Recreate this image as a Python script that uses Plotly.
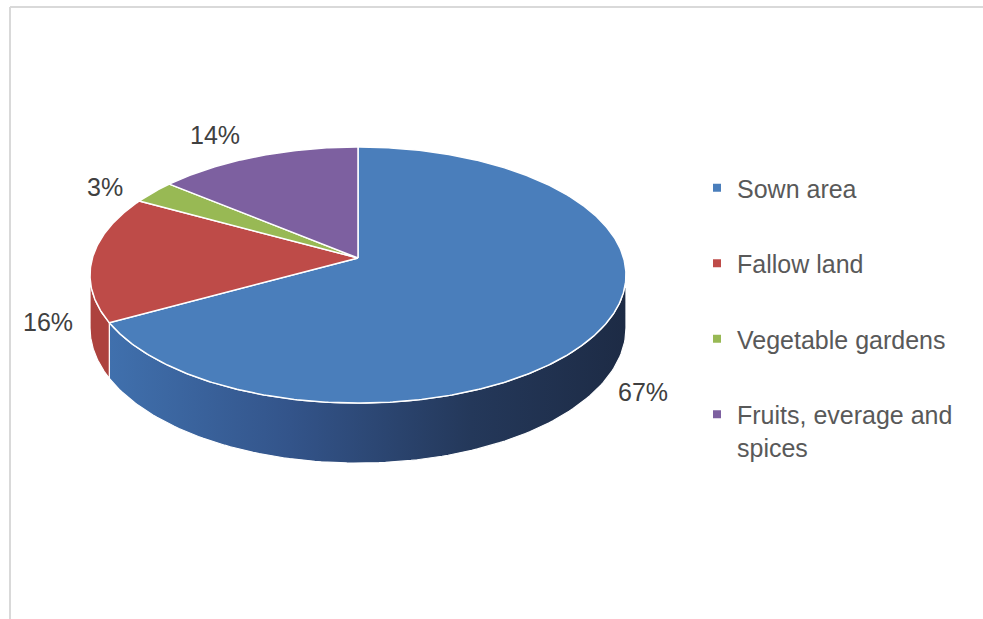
import numpy as np
import plotly.graph_objects as go

# Land use shares (%)
categories = ["Sown area", "Fallow land", "Vegetable gardens", "Fruits, everage and spices"]
legend_names = ["Sown area", "Fallow land", "Vegetable gardens", "Fruits, everage and<br>spices"]
values = [67, 16, 3, 14]

top_colors = ["#4a7ebb", "#be4b48", "#98b954", "#7d60a0"]
side_colors = ["#2e4a72", "#ad423e", "#7d9745", "#634a82"]
blue_side_scale = [[0.0, "#4070ad"], [0.35, "#33548a"], [0.7, "#24385a"], [1.0, "#1d2b45"]]

# Canvas and 3-D pie geometry (pixel space)
W, H = 983, 619
CX, CY = 358, 258          # projected pie centre
RX, RY = 265.6, 125.8      # radii of the top face
K = 0.133                  # perspective strength
DEPTH = 52                 # thickness of the disc
LABEL_FONT = "Liberation Sans, Arial, sans-serif"


def proj(theta_deg, drop=0.0):
    t = np.radians(theta_deg)
    u, v = np.sin(t), np.cos(t)
    d = 1 + K * v
    return CX + RX * u / d, CY - RY * v / d + drop / d


fig = go.Figure()

total = float(sum(values))
ends = np.cumsum(values) / total * 360.0
starts = np.concatenate([[0.0], ends[:-1]])

# visible part of the rim lies between the two silhouette angles
s_lo = np.degrees(np.arccos(-K))
s_hi = 360.0 - s_lo

# rim (side walls) first
for i, (a0, a1) in enumerate(zip(starts, ends)):
    lo, hi = max(a0, s_lo), min(a1, s_hi)
    if lo >= hi:
        continue
    t = np.linspace(lo, hi, 120)
    xt, yt = proj(t)
    xb, yb = proj(t[::-1], DEPTH)
    xs = np.concatenate([xt, xb, xt[:1]])
    ys = np.concatenate([yt, yb, yt[:1]])
    kw = dict(fillcolor=side_colors[i])
    if i == 0:
        kw = dict(fillgradient=dict(type="horizontal", colorscale=blue_side_scale))
    fig.add_trace(go.Scatter(x=xs, y=ys, mode="lines", fill="toself",
                             line=dict(color="white", width=1.2),
                             hoverinfo="skip", showlegend=False, **kw))

# top faces
for i, (a0, a1) in enumerate(zip(starts, ends)):
    t = np.linspace(a0, a1, max(int((a1 - a0) * 2), 8))
    xt, yt = proj(t)
    xs = np.concatenate([[CX], xt, [CX]])
    ys = np.concatenate([[CY], yt, [CY]])
    fig.add_trace(go.Scatter(x=xs, y=ys, mode="lines", fill="toself",
                             fillcolor=top_colors[i],
                             line=dict(color="white", width=1.5),
                             hoverinfo="skip", showlegend=False))

# legend entries
for i, name in enumerate(legend_names):
    fig.add_trace(go.Scatter(x=[None], y=[None], mode="markers", name=name,
                             legendgroup=str(i),
                             marker=dict(symbol="square", size=8, color=top_colors[i])))

# percentage labels
label_pos = [(643, 392), (48, 322), (105, 187), (215, 135)]
for v, (lx, ly) in zip(values, label_pos):
    fig.add_annotation(x=lx, y=ly, xref="x", yref="y", text=f"{v}%", showarrow=False,
                       font=dict(family=LABEL_FONT, size=25, color="#404040"))

# thin frame on top and left
fig.add_shape(type="line", xref="paper", yref="paper", x0=10 / W, x1=1, y0=1 - 7 / H, y1=1 - 7 / H,
              line=dict(color="#d9d9d9", width=2))
fig.add_shape(type="line", xref="paper", yref="paper", x0=10 / W, x1=10 / W, y0=1 - 7 / H, y1=0,
              line=dict(color="#d9d9d9", width=2))

fig.update_layout(
    width=W, height=H,
    margin=dict(l=0, r=0, t=0, b=0),
    paper_bgcolor="white", plot_bgcolor="white",
    xaxis=dict(range=[0, W], visible=False, fixedrange=True),
    yaxis=dict(range=[H, 0], visible=False, fixedrange=True),
    showlegend=True,
    legend=dict(x=697 / W, y=1 - 165 / H, xanchor="left", yanchor="top",
                font=dict(family=LABEL_FONT, size=25, color="#595959"),
                tracegroupgap=40, valign="top", bgcolor="rgba(0,0,0,0)",
                itemwidth=30),
)

fig.write_html("out.html")
